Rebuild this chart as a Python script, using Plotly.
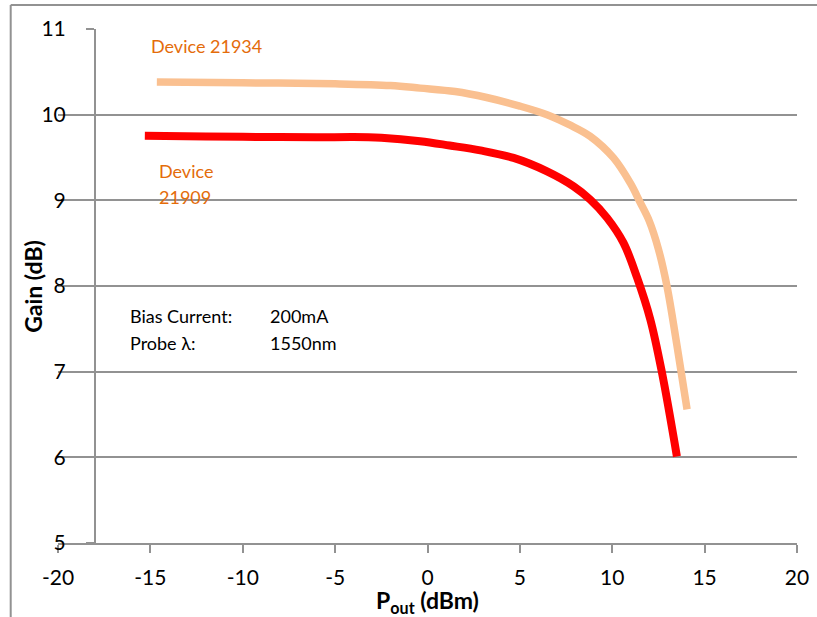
import plotly.graph_objects as go

# Gain vs output power for two devices (bias 200 mA, probe 1550 nm)
pout_21934 = [-14.65, -10, -5, -2, -0.4, 1.5, 3.2, 5, 6.47, 7.7, 8.81, 10.07, 10.98, 11.5,
              12.0, 12.5, 12.96, 13.5, 14.05]
gain_21934 = [10.38, 10.372, 10.36, 10.34, 10.31, 10.27, 10.20, 10.10, 10.0, 9.88, 9.747, 9.495,
              9.20, 8.98, 8.76, 8.43, 8.0, 7.31, 6.56]

pout_21909 = [-15.3, -12, -9, -6, -4, -2.5, -0.4, 1.2, 2.86, 4.66, 6.47, 7.91, 8.81, 9.72,
              10.61, 11.34, 12.06, 12.69, 13.5]
gain_21909 = [9.755, 9.745, 9.74, 9.735, 9.74, 9.73, 9.69, 9.64, 9.583, 9.495, 9.338, 9.163,
              9.008, 8.795, 8.503, 8.10, 7.61, 6.99, 6.01]

x_ticks = [-20, -15, -10, -5, 0, 5, 10, 15, 20]
y_ticks = [5, 6, 7, 8, 9, 10, 11]

GRID = "#929292"
FONT = "Lato, 'Open Sans', sans-serif"
ORANGE_TEXT = "#E46C0A"

fig = go.Figure()
fig.add_trace(go.Scatter(
    x=pout_21934, y=gain_21934, mode="lines",
    line=dict(color="#FAC090", width=7.5, shape="spline", smoothing=1.0),
    name="Device 21934", showlegend=False, hoverinfo="x+y",
))
fig.add_trace(go.Scatter(
    x=pout_21909, y=gain_21909, mode="lines",
    line=dict(color="#FF0000", width=8, shape="spline", smoothing=1.0),
    name="Device 21909", showlegend=False, hoverinfo="x+y",
))

# Outer chart border (top and left edges visible)
fig.add_shape(type="line", xref="paper", yref="paper",
              x0=-0.064, x1=1.2, y0=1.0465, y1=1.0465,
              line=dict(color=GRID, width=2))
fig.add_shape(type="line", xref="paper", yref="paper",
              x0=-0.064, x1=-0.064, y0=1.0465, y1=-0.3,
              line=dict(color=GRID, width=2))

annots = [
    dict(x=-15.1, y=10.805, text="Device 21934", color=ORANGE_TEXT),
    dict(x=-14.65, y=9.347, text="Device", color=ORANGE_TEXT),
    dict(x=-14.65, y=9.043, text="21909", color=ORANGE_TEXT),
    dict(x=-16.2, y=7.655, text="Bias Current:", color="#000000"),
    dict(x=-8.62, y=7.655, text="200mA", color="#000000"),
    dict(x=-16.2, y=7.33, text="Probe \u03bb:", color="#000000"),
    dict(x=-8.62, y=7.33, text="1550nm", color="#000000"),
]
for a in annots:
    fig.add_annotation(x=a["x"], y=a["y"], xref="x", yref="y", text=a["text"],
                       showarrow=False, xanchor="left", yanchor="middle", align="left",
                       font=dict(family=FONT, size=18, color=a["color"]))

# Y axis title, placed right beside the tick labels
fig.add_annotation(x=-0.034, y=0.5, xref="paper", yref="paper", text="<b>Gain (dB)</b>",
                   textangle=-90, showarrow=False, xanchor="center", yanchor="middle",
                   font=dict(family=FONT, size=23, color="#000000"))

fig.update_layout(
    width=817, height=617,
    margin=dict(l=58, r=20, t=29, b=74, autoexpand=False),
    paper_bgcolor="white", plot_bgcolor="white",
    font=dict(family=FONT, color="#000000"),
    xaxis=dict(
        range=[-20, 20], tickvals=x_ticks, ticktext=[str(v) for v in x_ticks],
        automargin=False,
        showgrid=False, zeroline=False,
        showline=True, linecolor=GRID, linewidth=2,
        ticks="outside", ticklen=8, tickwidth=2, tickcolor=GRID,
        tickfont=dict(size=21, family=FONT, color="#000000"),
        ticklabelstandoff=7,
        title=dict(text="<b>P<sub>out</sub> (dBm)</b>", font=dict(size=23, family=FONT)),
    ),
    yaxis=dict(
        range=[5, 11], tickvals=y_ticks, ticktext=[str(v) for v in y_ticks],
        automargin=False,
        anchor="free", position=0.05,
        showgrid=True, gridcolor=GRID, gridwidth=1.8, zeroline=False,
        showline=True, linecolor=GRID, linewidth=2,
        ticks="outside", ticklen=8, tickwidth=2, tickcolor=GRID,
        tickfont=dict(size=21, family=FONT, color="#000000"),
        ticklabelstandoff=16,
    ),
)

fig.write_html("out.html")
